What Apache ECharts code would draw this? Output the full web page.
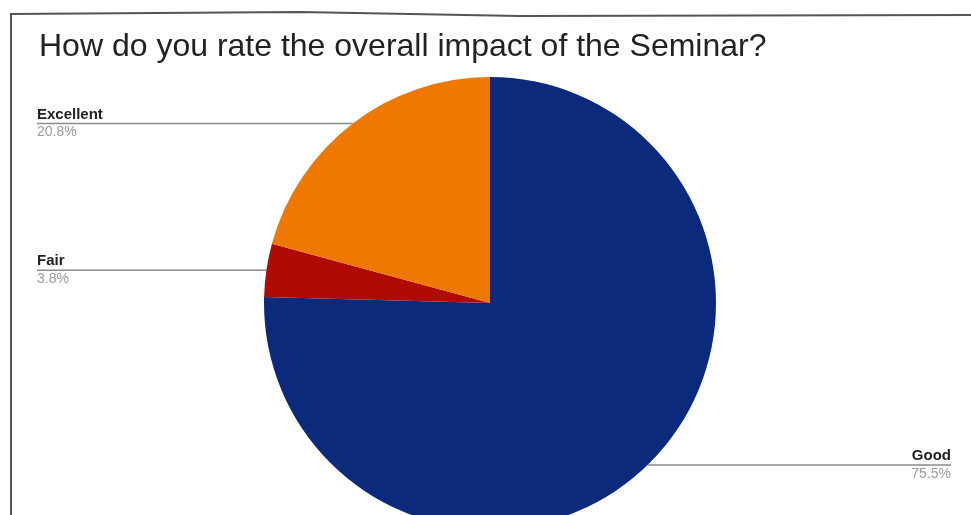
<!DOCTYPE html>
<html>
<head>
<meta charset="utf-8">
<script src="https://cdn.jsdelivr.net/npm/echarts@6/dist/echarts.min.js"></script>
<style>
  html, body { margin: 0; padding: 0; background: #fff; }
  #main { width: 971px; height: 515px; }
</style>
</head>
<body>
<div id="main"></div>
<script>
// data (percent of responses)
var categories = ['Good', 'Fair', 'Excellent'];
var shares = [75.5, 3.8, 20.8];
var sliceColors = ['#0c2a7c', '#b00a05', '#ef7800'];

var chartDom = document.getElementById('main');
var myChart = echarts.init(chartDom);

var pieData = [];
for (var i = 0; i < categories.length; i++) {
    pieData.push({ name: categories[i], value: shares[i] });
}

var option = {
    backgroundColor: '#fff',
    color: sliceColors,
    title: {
        text: 'How do you rate the overall impact of the Seminar?',
        left: 34,
        top: 26,
        textStyle: {
            fontFamily: 'Liberation Sans, Arial, sans-serif',
            fontSize: 32,
            fontWeight: 'normal',
            color: '#222'
        }
    },
    // scanned page frame (left and top edges)
    graphic: [
        {
            type: 'polyline',
            shape: { points: [[11, 515], [11, 14], [300, 12], [520, 16], [971, 15]] },
            style: { stroke: '#555', lineWidth: 2, fill: null },
            silent: true
        }
    ],
    series: [
        {
            type: 'pie',
            left: 17,
            right: 0,
            top: 0,
            bottom: 0,
            center: [473, 303],
            radius: 226,
            startAngle: 90,
            clockwise: true,
            avoidLabelOverlap: true,
            data: pieData,
            itemStyle: { borderWidth: 0 },
            label: {
                show: true,
                position: 'outside',
                alignTo: 'edge',
                edgeDistance: 20,
                formatter: '{name|{b}}\n{pct|{c}%}',
                rich: {
                    name: {
                        fontFamily: 'Liberation Sans, Arial, sans-serif',
                        fontSize: 15,
                        fontWeight: 'bold',
                        color: '#222',
                        lineHeight: 18
                    },
                    pct: {
                        fontFamily: 'Liberation Sans, Arial, sans-serif',
                        fontSize: 14,
                        color: '#9a9a9a',
                        lineHeight: 18
                    }
                }
            },
            labelLine: {
                show: true,
                length: 0,
                length2: 10,
                smooth: false,
                lineStyle: { color: '#8a8a8a', width: 1.5 }
            },
            labelLayout: function (params) {
                var isLeft = params.labelRect.x < myChart.getWidth() / 2;
                var points = params.labelLinePoints;
                points[2][0] = isLeft
                    ? params.labelRect.x
                    : params.labelRect.x + params.labelRect.width;
                return { labelLinePoints: points };
            },
            emphasis: { disabled: true }
        }
    ]
};

if (option && typeof option === 'object') {
    myChart.setOption(option, true);
}
</script>
</body>
</html>
